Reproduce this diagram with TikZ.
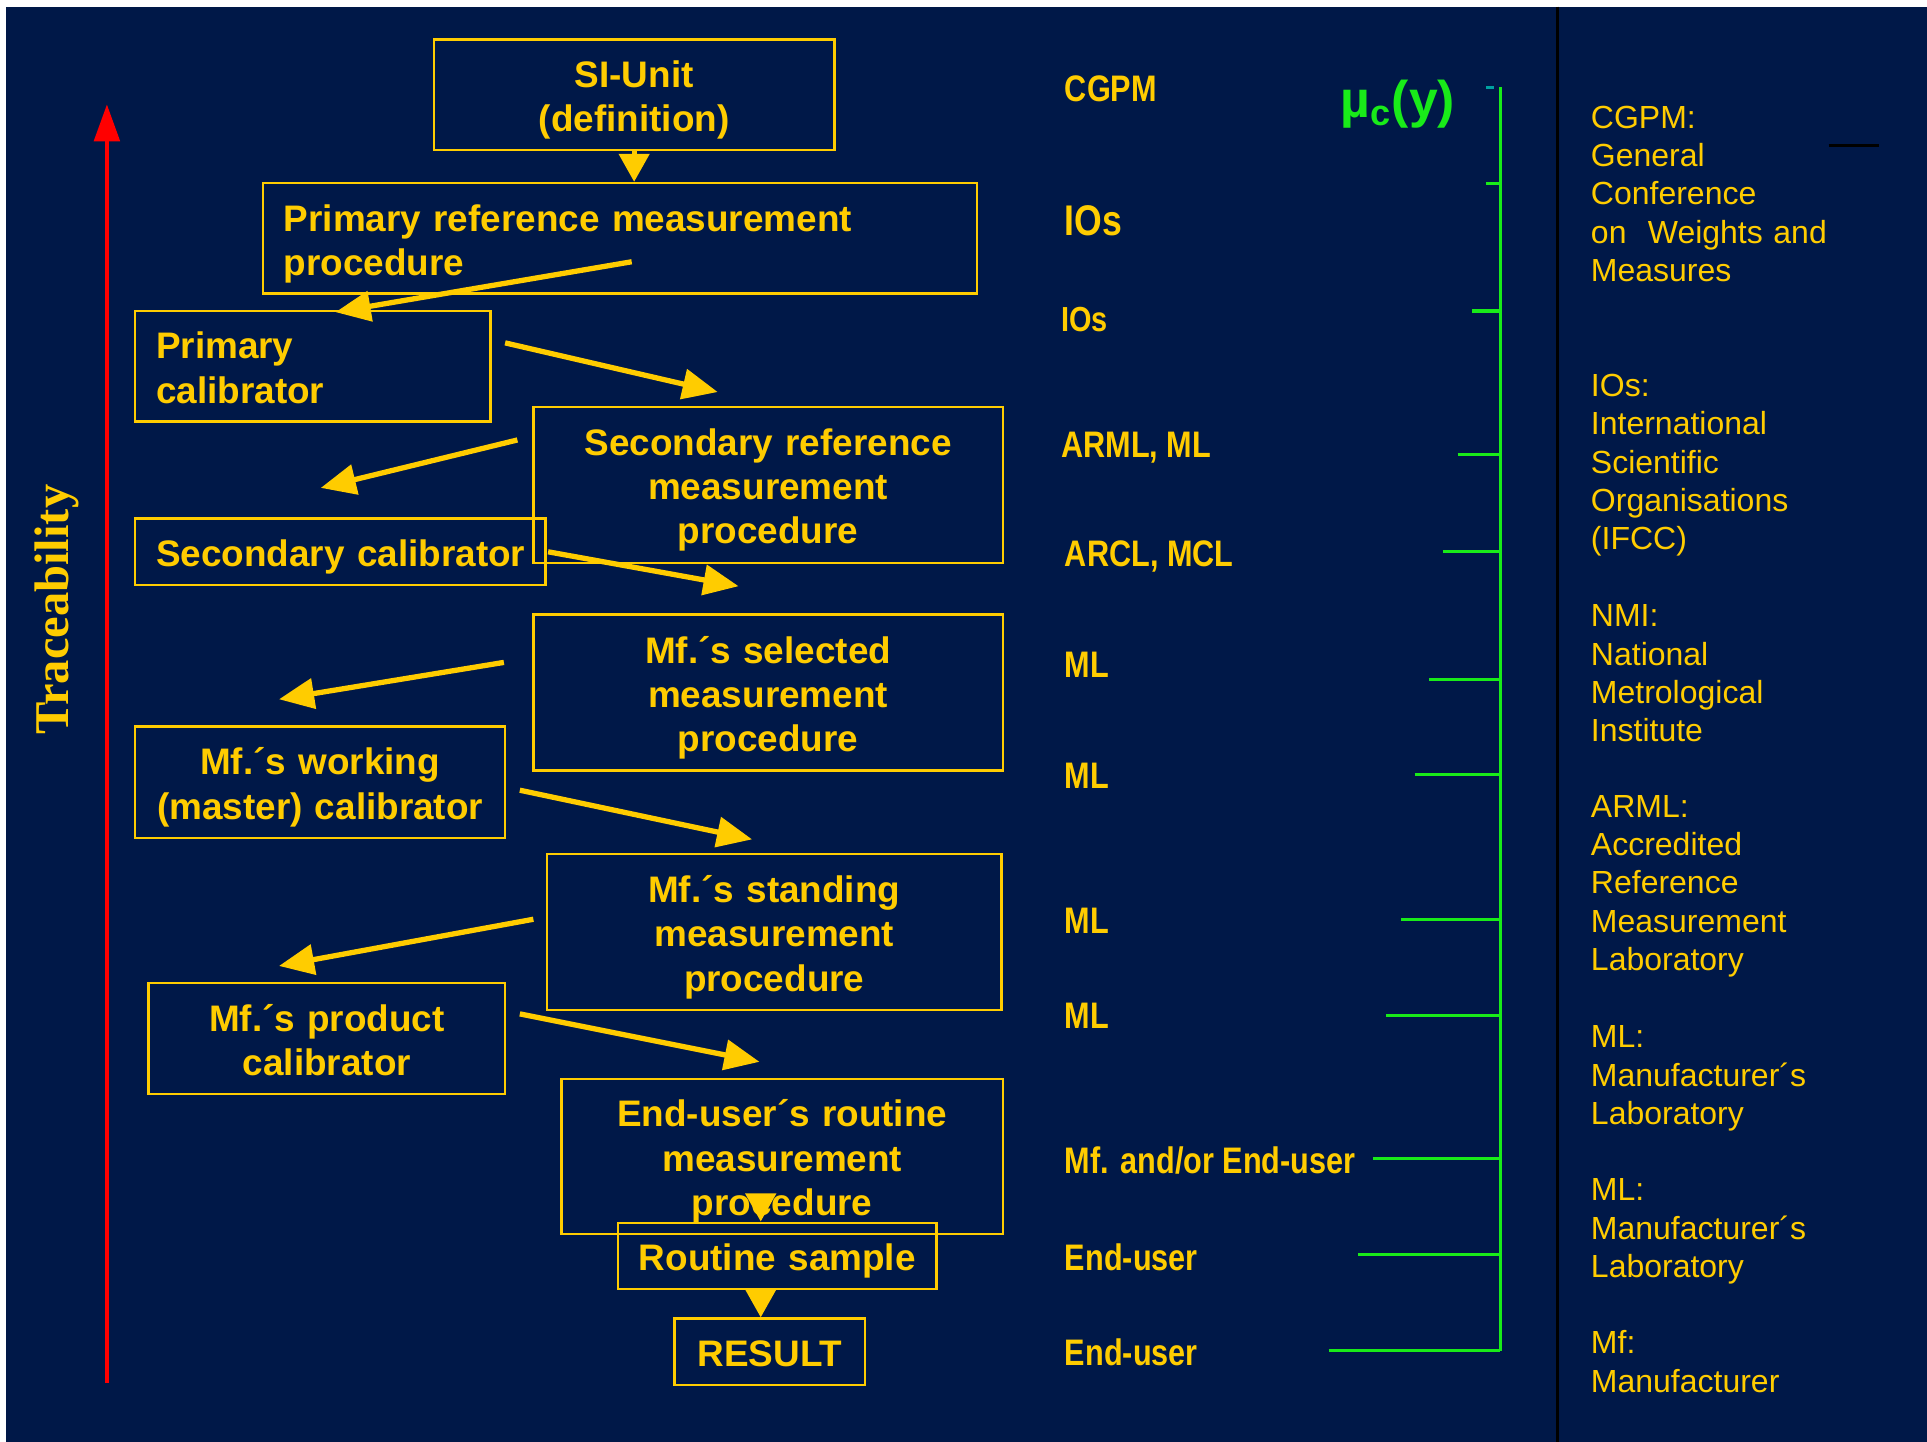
\documentclass[tikz,border=0pt]{standalone}
\usepackage{fontspec}
\setmainfont{Liberation Sans}
\newfontfamily\narrowsans[FakeStretch=0.83]{Liberation Sans}
\newfontfamily\traceserif{Liberation Serif}
\usetikzlibrary{arrows.meta}
\definecolor{navy}{RGB}{0,24,72}
\definecolor{gold}{RGB}{255,204,0}
\definecolor{scalegreen}{RGB}{25,235,25}
\definecolor{ticktop}{RGB}{0,160,160}
\newdimen\pxu \pxu=0.1229mm

\begin{document}
\begin{tikzpicture}[x=0.1229mm,y=-0.1229mm,
  every node/.style={text=gold,inner sep=0pt,font=\bfseries\fontsize{10.5}{12.6}\selectfont},
  box/.style={draw=gold,line width=0.7pt,text height=26\pxu},
  oneline/.style={text depth=2\pxu},
  twolines/.style={text depth=38\pxu},
  threelines/.style={text depth=74\pxu},
  flow/.style={gold,line width=1.5pt,-{Triangle[length=10pt,width=8.5pt]}},
  drop/.style={gold,line width=1.5pt,-{Triangle[length=8pt,width=8.5pt]}},
  org/.style={anchor=base west,font=\narrowsans\bfseries\fontsize{10.5}{12}\selectfont},
  legend/.style={anchor=base west,text width=250\pxu,align=left,font=\fontsize{9.1}{10.9}\selectfont},
  tick/.style={scalegreen,line width=0.9pt}]
\useasboundingbox (0,0) rectangle (1568,1173);
\fill[white] (0,0) rectangle (1568,1173);
\fill[navy] (5,5.5) rectangle (1568,1173);
% traceability axis
\node[rotate=90,font=\traceserif\bfseries\fontsize{13.8}{16}\selectfont] (trace) at (46,496) {Traceability};
\coordinate (tlow) at (87,1125);
\coordinate (thigh) at (87,85);
\draw[red,line width=1pt,-{Triangle[length=10.5pt,width=7.3pt]}] (tlow) -- (thigh);
% hierarchy boxes
\node[box,twolines,minimum height=90\pxu,text width=326\pxu,align=center] (si) at (516,77) {SI-Unit\\(definition)};
\node[box,twolines,minimum height=90\pxu,text width=547\pxu,inner xsep=17\pxu,align=left] (prm) at (504.5,194) {Primary reference measurement\\procedure};
\node[box,twolines,minimum height=90\pxu,text width=255\pxu,inner xsep=17\pxu,align=left] (pcal) at (254.5,298) {Primary\\calibrator};
\node[box,threelines,minimum height=127\pxu,text width=382\pxu,align=center] (srm) at (625,394.5) {Secondary reference\\measurement\\procedure};
\node[box,oneline,minimum height=54\pxu,text width=300\pxu,inner xsep=17\pxu,align=left] (scal) at (277,449) {\mbox{Secondary calibrator}};
\node[box,threelines,minimum height=127\pxu,text width=382\pxu,align=center] (msel) at (625,563.5) {Mf.´s selected\\measurement\\procedure};
\node[box,twolines,minimum height=91\pxu,text width=301\pxu,align=center] (mwork) at (260.5,636.5) {Mf.´s working\\(master) calibrator};
\node[box,threelines,minimum height=127\pxu,text width=370\pxu,align=center] (mstand) at (630,758.5) {Mf.´s standing\\measurement\\procedure};
\node[box,twolines,minimum height=90\pxu,text width=290\pxu,align=center] (mprod) at (266,845) {Mf.´s product\\calibrator};
\node[box,threelines,minimum height=126\pxu,text width=359\pxu,align=center] (euser) at (636.5,941) {End-user´s routine\\measurement\\procedure};
\node[box,oneline,minimum height=54\pxu,text width=259\pxu,align=center] (rsample) at (632.5,1022) {Routine sample};
\node[box,oneline,minimum height=54\pxu,text width=155\pxu,align=center] (result) at (626.5,1100) {RESULT};
% zig-zag arrows
\draw[drop] (si.south) -- (si.south |- prm.north);
\coordinate (a1) at (514,213);  \coordinate (a2) at (273,254);
\coordinate (b1) at (411,279);  \coordinate (b2) at (584,319);
\coordinate (c1) at (421,358);  \coordinate (c2) at (261,397);
\coordinate (d1) at (446,449);  \coordinate (d2) at (601,477);
\coordinate (e1) at (410,539);  \coordinate (e2) at (227,569);
\coordinate (f1) at (423,643);  \coordinate (f2) at (612,683);
\coordinate (g1) at (434,748);  \coordinate (g2) at (227,786);
\coordinate (h1) at (423,825);  \coordinate (h2) at (618,864);
\foreach \s/\t in {a1/a2,b1/b2,c1/c2,d1/d2,e1/e2,f1/f2,g1/g2,h1/h2}
  \draw[flow] (\s) -- (\t);
\coordinate (j1) at (619,972);
\draw[drop] (j1) -- (j1 |- rsample.north);
\draw[drop] (rsample.south -| j1) -- (result.north -| j1);
% who does it
\node[org] (cgpm) at (866,82.6) {CGPM};
\node[org,font=\narrowsans\bfseries\fontsize{12.2}{14}\selectfont] (ios1) at (866,192) {IOs};
\node[org,font=\narrowsans\bfseries\fontsize{9.9}{12}\selectfont] (ios2) at (863,269.6) {IOs};
\node[org] (arml) at (863,372.6) {ARML, ML};
\node[org] (arcl) at (866,460.7) {ARCL, MCL};
\node[org] (ml1) at (866,551.5) {ML};
\node[org] (ml2) at (866,641.8) {ML};
\node[org] (ml3) at (866,759.7) {ML};
\node[org] (ml4) at (866,837) {ML};
\node[org] (mfeu) at (866,955) {Mf. and/or End-user};
\node[org] (eu1) at (866,1034) {End-user};
\node[org] (eu2) at (866,1111) {End-user};
% uncertainty scale
\node[anchor=base west,text=scalegreen,font=\bfseries\fontsize{14.7}{17}\selectfont] (uc) at (1090,96) {µ\textsubscript{c}(y)};
\draw[scalegreen,line width=0.9pt] (1220.6,71) -- (1220.6,1099);
\draw[ticktop,line width=0.9pt] (1209,71) -- (1216,71);
\foreach \y/\x in {149/1209,253/1198,370/1186,449/1174,552.6/1163,630/1151,748/1140,826/1128,943/1117,1021/1105,1099/1081}
  \draw[tick] (\x,\y) -- (1220.6,\y);
% legend
\draw[black,line width=0.8pt] (1267,5.5) -- (1267,1173);
\draw[black,line width=0.8pt] (1488,118.5) -- (1529,118.5);
\node[legend] (lcgpm) at (1294,104.4) {CGPM:\\General\\Conference\\on~~Weights and\\Measures};
\node[legend] (lios) at (1294,322.7) {IOs:\\International\\Scientific\\Organisations\\(IFCC)};
\node[legend] (lnmi) at (1294,510) {NMI:\\National\\Metrological\\Institute};
\node[legend] (larml) at (1294,665) {ARML:\\Accredited\\Reference\\Measurement\\Laboratory};
\node[legend] (lml1) at (1294,852.7) {ML:\\Manufacturer´s\\Laboratory};
\node[legend] (lml2) at (1294,977) {ML:\\Manufacturer´s\\Laboratory};
\node[legend] (lmf) at (1294,1101.6) {Mf:\\Manufacturer};
\end{tikzpicture}
\end{document}
